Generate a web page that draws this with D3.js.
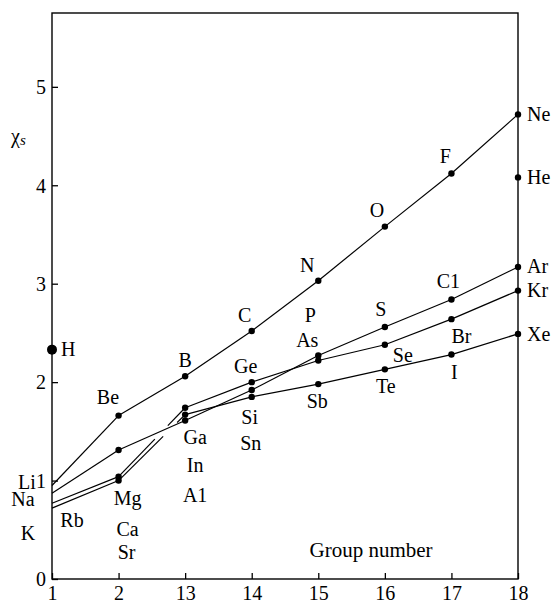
<!DOCTYPE html>
<html><head><meta charset="utf-8">
<script src="https://cdn.jsdelivr.net/npm/d3@7"></script>
<style>
body{margin:0;background:#fff}
text{font-family:"Liberation Serif","Times New Roman",serif;font-size:20px;fill:#000}
</style>
</head><body>
<svg id="c" width="554" height="603"></svg>
<script>
// ---- data ----
const groups = ['1','2','13','14','15','16','17','18'];
const yTickValues = [0,1,2,3,4,5];

const period2Symbols = ['Li','Be','B','C','N','O','F','Ne'];
const period2Values  = [0.95, 1.66, 2.06, 2.52, 3.03, 3.58, 4.12, 4.72];
const period3Symbols = ['Na','Mg','A1','Si','P','S','C1','Ar'];
const period3Values  = [0.87, 1.31, 1.61, 1.92, 2.27, 2.56, 2.84, 3.17];
const period4Symbols = ['K','Ca','Ga','Ge','As','Se','Br','Kr'];
const period4Values  = [0.77, 1.04, 1.74, 2.00, 2.22, 2.38, 2.64, 2.93];
const period5Symbols = ['Rb','Sr','In','Sn','Sb','Te','I','Xe'];
const period5Values  = [0.72, 1.00, 1.67, 1.85, 1.98, 2.13, 2.28, 2.49];

const hydrogen = {symbol:'H', group:'1', value:2.33};
const helium   = {symbol:'He', group:'18', value:4.08};

// broken segment (transition-metal gap) between group 2 and 13: fraction of segment
const period4Gap = [0.545, 0.74];
const period5Gap = [0.67, 0.88];

// label placement relative to each point: [dx, dy, anchor]
const labelOffsets = {
  H:[9,0,'start'], He:[9,0,'start'], Ne:[9,0,'start'], Ar:[9,-1,'start'], Kr:[9,0,'start'], Xe:[9,0,'start'],
  Li:[-25,-3,'middle'], Na:[-29,6,'middle'], K:[-24,30,'middle'], Rb:[20,12,'middle'],
  Be:[-10.6,-18,'middle'], B:[0,-16,'middle'], C:[-7,-16,'middle'], N:[-11,-16,'middle'],
  O:[-8,-16,'middle'], F:[-6,-17,'middle'],
  Mg:[9,48,'middle'], A1:[10,75,'middle'], Si:[-2,27,'middle'], P:[-8,-40,'middle'], S:[-4,-18,'middle'], C1:[-3,-18,'middle'],
  Ca:[9,53,'middle'], Ga:[10,29,'middle'], Ge:[-6,-16,'middle'], As:[-11,-20,'middle'], Se:[18,10,'middle'], Br:[10,17,'middle'],
  Sr:[8,72,'middle'], In:[10,51,'middle'], Sn:[-1,46,'middle'], Sb:[-1,17,'middle'], Te:[1,17,'middle'], I:[3,18,'middle']
};

// ---- layout ----
const svg = d3.select('#c');
const mLeft = 52, mRight = 518, mTop = 13, mBottom = 579;
const x = d3.scalePoint().domain(groups).range([mLeft, mRight]);
const y = d3.scaleLinear().domain([0, 5.75]).range([mBottom, mTop]);

const periods = [
  {symbols:period2Symbols, values:period2Values, gap:null},
  {symbols:period3Symbols, values:period3Values, gap:null},
  {symbols:period4Symbols, values:period4Values, gap:period4Gap},
  {symbols:period5Symbols, values:period5Values, gap:period5Gap}
];

// axes
const xAxis = d3.axisBottom(x).tickSizeInner(-6).tickSizeOuter(0).tickPadding(7);
const yAxis = d3.axisLeft(y).tickValues(yTickValues).tickFormat(d3.format('d')).tickSizeInner(-6).tickSizeOuter(0).tickPadding(6);
const gx = svg.append('g').attr('transform',`translate(0,${mBottom})`).call(xAxis);
const gy = svg.append('g').attr('transform',`translate(${mLeft},0)`).call(yAxis);
[gx,gy].forEach(g=>{
  g.select('.domain').remove();
  g.selectAll('line').attr('stroke','#000').attr('stroke-width',1.3);
  g.selectAll('text').attr('font-family',null).attr('font-size',null).style('fill','#000');
});
gy.selectAll('text').attr('dy','0.34em');

// frame
svg.append('rect').attr('x',mLeft).attr('y',mTop).attr('width',mRight-mLeft).attr('height',mBottom-mTop)
  .attr('fill','none').attr('stroke','#000').attr('stroke-width',1.4);

// lines
const lineG = svg.append('g').attr('stroke','#000').attr('stroke-width',1.2).attr('fill','none');
periods.forEach(p=>{
  const pts = p.values.map((v,i)=>[x(groups[i]), y(v)]);
  for(let i=0;i<pts.length-1;i++){
    const a=pts[i], b=pts[i+1];
    if(i===1 && p.gap){
      const lerp=t=>[a[0]+(b[0]-a[0])*t, a[1]+(b[1]-a[1])*t];
      const g0=lerp(p.gap[0]), g1=lerp(p.gap[1]);
      lineG.append('line').attr('x1',a[0]).attr('y1',a[1]).attr('x2',g0[0]).attr('y2',g0[1]);
      lineG.append('line').attr('x1',g1[0]).attr('y1',g1[1]).attr('x2',b[0]).attr('y2',b[1]);
    } else {
      lineG.append('line').attr('x1',a[0]).attr('y1',a[1]).attr('x2',b[0]).attr('y2',b[1]);
    }
  }
});

// dots
const dotG = svg.append('g').attr('fill','#000');
periods.forEach(p=>{
  p.values.forEach((v,i)=>{ if(i>0) dotG.append('circle').attr('cx',x(groups[i])).attr('cy',y(v)).attr('r',3.2); });
});
dotG.append('circle').attr('cx',x(hydrogen.group)).attr('cy',y(hydrogen.value)).attr('r',5);
dotG.append('circle').attr('cx',x(helium.group)).attr('cy',y(helium.value)).attr('r',3.2);

// element labels
const labelG = svg.append('g');
function addLabel(sym, g, v){
  const o = labelOffsets[sym];
  labelG.append('text').attr('x',x(g)+o[0]).attr('y',y(v)+o[1]).attr('dy','0.34em')
    .attr('text-anchor',o[2]).text(sym);
}
periods.forEach(p=>p.symbols.forEach((s,i)=>addLabel(s, groups[i], p.values[i])));
addLabel(hydrogen.symbol, hydrogen.group, hydrogen.value);
addLabel(helium.symbol, helium.group, helium.value);

// axis titles
svg.append('text').attr('x',371).attr('y',550).attr('dy','0.34em').attr('text-anchor','middle')
  .style('font-size','21px').text('Group number');
const yt = svg.append('text').attr('x',11).attr('y',143);
yt.append('tspan').text('χ');
yt.append('tspan').attr('font-style','italic').attr('font-size','15px').attr('dy',2).text('s');
</script>
</body></html>
